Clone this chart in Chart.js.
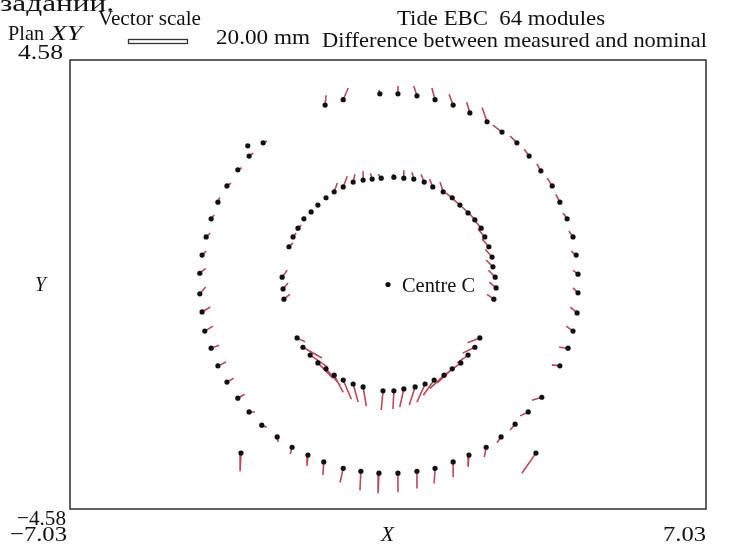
<!DOCTYPE html>
<html>
<head>
<meta charset="utf-8">
<script src="https://cdn.jsdelivr.net/npm/chart.js@4"></script>
<style>
  body { margin: 0; background: #fff; }
  #wrap { width: 729px; height: 544px; }
</style>
</head>
<body>
<div id="wrap"><canvas id="plan" width="729" height="544"></canvas></div>
<script>
// plot limits
const xLimits = [-7.03, 7.03];
const yLimits = [-4.58, 4.58];

// outer ring modules: nominal position and measured-minus-nominal vector (plot units)
const outerX = [-3.10,-2.76,-3.07,-3.32,-3.56,-3.76,-3.91,-4.02,-4.11,-4.16,-4.16,-4.11,-4.05,-3.91,-3.76,-3.56,-3.32,-3.07,-2.79,-2.45,-2.12,-1.77,-1.42,-0.99,-0.60,-0.20,0.22,0.64,1.04,1.44,1.79,2.17,2.50,2.81,3.10,3.40,3.80,3.98,4.09,4.18,4.20,4.20,4.16,4.09,3.96,3.80,3.63,3.38,3.12,2.85,2.52,2.19,1.81,1.44,1.04,0.64,0.22,-0.18,-0.99,-1.39,-3.25,3.27];
const outerY = [2.83,2.89,2.62,2.34,2.01,1.68,1.34,0.97,0.60,0.23,-0.19,-0.56,-0.95,-1.30,-1.66,-1.99,-2.32,-2.60,-2.87,-3.11,-3.32,-3.48,-3.62,-3.75,-3.81,-3.85,-3.85,-3.81,-3.75,-3.62,-3.48,-3.32,-3.11,-2.85,-2.60,-2.30,-1.66,-1.30,-0.95,-0.58,-0.17,0.21,0.60,0.97,1.34,1.68,2.01,2.32,2.62,2.89,3.11,3.32,3.50,3.66,3.77,3.85,3.89,3.89,3.77,3.66,-3.44,-3.44];
const outerDX = [0.05,0.09,0.09,0.09,0.09,0.04,0.07,0.09,0.09,0.13,0.13,0.18,0.18,0.18,0.18,0.15,0.15,0.13,0.11,0.02,-0.04,-0.02,-0.02,-0.07,-0.02,-0.02,0,0,-0.02,0,-0.02,-0.04,-0.09,-0.11,-0.18,-0.22,-0.18,-0.20,-0.15,-0.15,-0.11,-0.11,-0.11,-0.09,-0.09,-0.09,-0.11,-0.09,-0.11,-0.15,-0.20,-0.11,-0.07,-0.09,-0.07,-0.07,0,-0.02,0.11,0.02,-0.02,-0.31];
const outerDY = [0,0.04,0.06,0.04,0.06,0.10,0.08,0.08,0.08,0.10,0.14,0.10,0.10,0.06,0.08,0.08,0.08,0,-0.04,-0.10,-0.14,-0.22,-0.27,-0.29,-0.39,-0.41,-0.39,-0.35,-0.31,-0.31,-0.24,-0.20,-0.12,-0.12,-0.08,-0.06,0.02,0.02,0.10,0.12,0.10,0.08,0.08,0.12,0.12,0.16,0.16,0.14,0.14,0.14,0.14,0.29,0.22,0.22,0.24,0.20,0.16,0.08,0.24,0.20,-0.37,-0.41];

// inner ring modules
const innerX = [-2.30,-2.32,-2.34,-2.19,-2.10,-1.99,-1.86,-1.70,-1.55,-1.37,-1.19,-0.99,-0.77,-0.55,-0.35,-0.15,0.13,0.35,0.57,0.80,0.99,1.22,1.42,1.59,1.77,1.92,2.06,2.14,2.23,2.30,2.32,2.37,2.39,2.34,
  -2.01,-1.88,-1.72,-1.55,-1.37,-1.19,-0.99,-0.77,-0.55,-0.11,0.13,0.35,0.60,0.82,1.02,1.24,1.42,1.61,1.77,1.92,2.03];
const innerY = [-0.30,-0.09,0.15,0.77,0.97,1.15,1.34,1.48,1.62,1.77,1.89,1.99,2.09,2.13,2.15,2.17,2.19,2.17,2.15,2.09,1.99,1.89,1.77,1.62,1.46,1.32,1.15,0.97,0.77,0.56,0.36,0.15,-0.07,-0.30,
  -1.09,-1.28,-1.44,-1.60,-1.72,-1.85,-1.95,-2.03,-2.09,-2.17,-2.17,-2.13,-2.09,-2.03,-1.95,-1.85,-1.72,-1.60,-1.44,-1.28,-1.09];
const innerDX = [0.13,0.11,0.11,0.09,0.07,0.07,0.04,0.04,0.04,0.02,0.07,0.09,0.04,0,-0.04,-0.07,-0.02,0,-0.04,-0.07,-0.07,-0.07,-0.15,-0.15,-0.13,-0.13,-0.13,-0.15,-0.15,-0.15,-0.15,-0.15,-0.15,-0.15,
  0.18,0.42,0.38,0.33,0.31,0.20,0.18,0.11,0.07,-0.04,-0.02,-0.09,-0.13,-0.18,-0.24,-0.31,-0.33,-0.35,-0.24,-0.27,-0.27];
const innerDY = [0.10,0.12,0.14,0.08,0.08,0.06,0.04,0.02,0.02,0.02,0.18,0.22,0.16,0.18,0.12,0.08,0.06,0.16,0.14,0.16,0.16,0.20,0.10,0.12,0.12,0.14,0.14,0.16,0.16,0.16,0.14,0.14,0.12,0.10,
  -0.08,-0.22,-0.24,-0.31,-0.33,-0.35,-0.39,-0.37,-0.39,-0.39,-0.37,-0.37,-0.37,-0.37,-0.31,-0.27,-0.29,-0.24,-0.16,-0.12,-0.10];

const centre = { x: 0, y: 0, label: 'Centre C' };

const allX = outerX.concat(innerX);
const allY = outerY.concat(innerY);
const allDX = outerDX.concat(innerDX);
const allDY = outerDY.concat(innerDY);

const dots = allX.map((x, i) => ({ x: x, y: allY[i] }));
dots.push({ x: centre.x, y: centre.y });

// each vector is a 2-point segment, split by a gap
const vectors = [];
allX.forEach((x, i) => {
  vectors.push({ x: x, y: allY[i] });
  vectors.push({ x: x + allDX[i], y: allY[i] + allDY[i] });
  vectors.push({ x: x, y: null });
});

const SERIF = '"Liberation Serif", "DejaVu Serif", serif';

// draws a string stretched to a given width
function fitText(ctx, str, x, y, w, size, italic) {
  ctx.font = (italic ? 'italic ' : '') + size + 'px ' + SERIF;
  const m = ctx.measureText(str).width;
  ctx.save();
  ctx.translate(x, y);
  ctx.scale(w / m, 1);
  ctx.textAlign = 'left';
  ctx.textBaseline = 'alphabetic';
  ctx.fillText(str, 0, 0);
  ctx.restore();
}

const frameAndText = {
  id: 'frameAndText',
  afterDraw(chart) {
    const ctx = chart.ctx;
    const a = chart.chartArea;
    const sx = chart.scales.x, sy = chart.scales.y;
    ctx.save();
    ctx.strokeStyle = '#3a3a3a';
    ctx.lineWidth = 1.6;
    ctx.strokeRect(a.left, a.top, a.right - a.left, a.bottom - a.top);

    ctx.fillStyle = '#111';
    // header
    fitText(ctx, 'заданий.', 0, 11, 114, 24, false);
    fitText(ctx, 'Plan', 8, 40, 36, 21, false);
    fitText(ctx, 'XY', 50, 40, 32, 21, true);
    fitText(ctx, 'Vector scale', 98, 25, 103, 21, false);
    ctx.strokeStyle = '#333';
    ctx.lineWidth = 1.3;
    ctx.strokeRect(128.5, 39.5, 59, 4);
    fitText(ctx, '20.00 mm', 216, 44, 94, 21, false);
    fitText(ctx, 'Tide EBC  64 modules', 397, 25, 208, 21, false);
    fitText(ctx, 'Difference between measured and nominal', 322, 47, 385, 22, false);

    // axis ends
    const yTop = sy.getPixelForValue(yLimits[1]);
    const yBot = sy.getPixelForValue(yLimits[0]);
    const xL = sx.getPixelForValue(xLimits[0]);
    const xR = sx.getPixelForValue(xLimits[1]);
    fitText(ctx, yLimits[1].toFixed(2), 18, yTop - 1, 45, 22, false);
    fitText(ctx, '\u2212' + Math.abs(yLimits[0]).toFixed(2), 17, yBot + 16, 49, 22, false);
    fitText(ctx, '\u2212' + Math.abs(xLimits[0]).toFixed(2), xL - 60, 541, 57, 22, false);
    fitText(ctx, xLimits[1].toFixed(2), xR - 43, 541, 43, 22, false);
    fitText(ctx, 'X', (xL + xR) / 2 - 7, 541, 13, 22, true);
    fitText(ctx, 'Y', 35, (yTop + yBot) / 2 + 6, 11, 22, true);

    // centre label
    const cx = sx.getPixelForValue(centre.x), cy = sy.getPixelForValue(centre.y);
    fitText(ctx, centre.label, cx + 14, cy + 7, 73, 21, false);
    ctx.restore();
  }
};

new Chart(document.getElementById('plan').getContext('2d'), {
  type: 'scatter',
  data: {
    datasets: [
      {
        label: 'Nominal',
        data: dots,
        order: 1,
        pointRadius: 2.6,
        pointBorderWidth: 0,
        pointBackgroundColor: '#111',
        pointBorderColor: '#111'
      },
      {
        label: 'Difference',
        data: vectors,
        order: 2,
        showLine: true,
        spanGaps: false,
        pointRadius: 0,
        borderColor: '#b84a5a',
        borderWidth: 1.6
      }
    ]
  },
  options: {
    responsive: false,
    animation: false,
    layout: { padding: { left: 70, top: 60, right: 23, bottom: 35 } },
    plugins: { legend: { display: false }, tooltip: { enabled: false } },
    scales: {
      x: { type: 'linear', min: xLimits[0], max: xLimits[1], display: false },
      y: { type: 'linear', min: yLimits[0], max: yLimits[1], display: false }
    }
  },
  plugins: [frameAndText]
});
</script>
</body>
</html>
